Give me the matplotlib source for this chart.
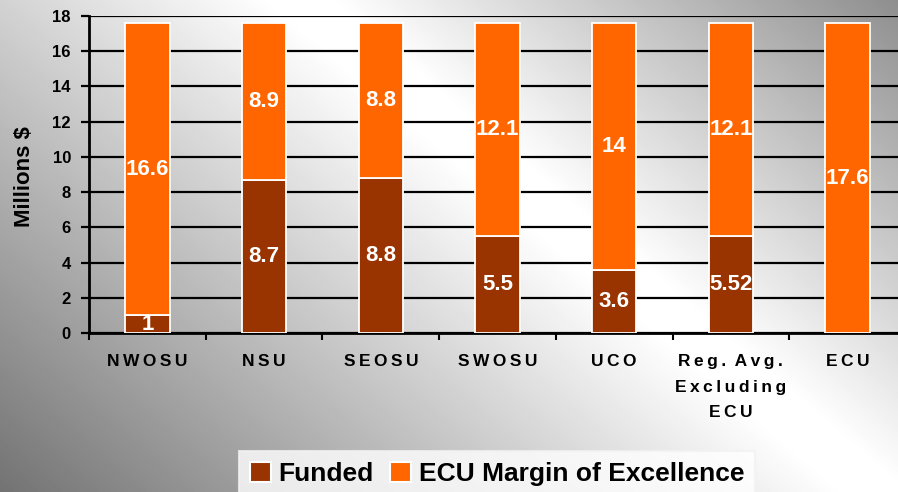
import numpy as np
import matplotlib
matplotlib.use('Agg')
import matplotlib.pyplot as plt
from matplotlib.patches import Patch

plt.rcParams['font.family'] = ['Liberation Sans', 'DejaVu Sans']
plt.rcParams['font.weight'] = 'bold'

# data (millions $)
schools = ['NWOSU', 'NSU', 'SEOSU', 'SWOSU', 'UCO', 'Reg. Avg.\nExcluding\nECU', 'ECU']
funded = [1, 8.7, 8.8, 5.5, 3.6, 5.52, 0]
margin = [16.6, 8.9, 8.8, 12.1, 14, 12.1, 17.6]
funded_lbl = ['1', '8.7', '8.8', '5.5', '3.6', '5.52', '']
margin_lbl = ['16.6', '8.9', '8.8', '12.1', '14', '12.1', '17.6']
yticks = [0, 2, 4, 6, 8, 10, 12, 14, 16, 18]

c_funded = '#993300'
c_margin = '#FF6600'


def spaced(s):
    # fake the wide letter spacing of the original
    lines = []
    for line in s.split('\n'):
        words = ['\u2009'.join(w) for w in line.split(' ')]
        lines.append(' \u2009'.join(words))
    return '\n'.join(lines)


W, H = 898, 492
fig = plt.figure(figsize=(W / 100, H / 100), dpi=100)

# diagonal grey-white-grey background
xx, yy = np.meshgrid(np.arange(W), np.arange(H))
d = ((xx - 300) * 470 - yy * 550) / 723.0
bg = np.where(d > 0, 1 - 0.0012 * np.clip(d - 20, 0, None),
              1 - 0.001 * np.clip(-d - 20, 0, None))
bg = np.clip(bg, 0.42, 1)
bgax = fig.add_axes([0, 0, 1, 1], zorder=-1)
bgax.imshow(bg, cmap='gray', vmin=0, vmax=1, aspect='auto', interpolation='bilinear')
bgax.axis('off')

ax = fig.add_axes([89 / W, 1 - 333 / H, 817 / W, 317 / H])
ax.set_facecolor('none')

x = np.arange(len(schools))
bw = 0.38
ax.bar(x, funded, bw, color=c_funded, edgecolor='white', linewidth=1.3, zorder=3)
ax.bar(x, margin, bw, bottom=funded, color=c_margin, edgecolor='white', linewidth=1.3, zorder=3)

for i in range(len(schools)):
    if funded_lbl[i]:
        ax.text(x[i], funded[i] / 2, funded_lbl[i], ha='center', va='center',
                color='white', fontsize=16, fontweight='bold', zorder=4)
    ax.text(x[i], funded[i] + margin[i] / 2, margin_lbl[i], ha='center', va='center',
            color='white', fontsize=16, fontweight='bold', zorder=4)

ax.set_xlim(-0.5, len(schools) - 0.5)
ax.set_ylim(0, 18)
ax.set_yticks(yticks)
ax.set_yticklabels([str(v) for v in yticks], fontsize=12, fontweight='bold')
ax.yaxis.grid(True, color='black', linewidth=1.6, zorder=1)
ax.set_axisbelow(True)

ax.set_xticks(x)
ax.set_xticklabels([spaced(s) for s in schools], fontsize=12.5, fontweight='bold',
                   linespacing=1.9)
ax.set_xticks(np.arange(len(schools) + 1) - 0.5, minor=True)
ax.tick_params(axis='x', which='major', length=0, pad=15)
ax.tick_params(axis='x', which='minor', length=5, width=1.5, direction='out')
ax.tick_params(axis='y', length=6, width=1.6, pad=7)

for s in ['top', 'right']:
    ax.spines[s].set_visible(False)
ax.spines['left'].set_linewidth(2)
ax.spines['bottom'].set_linewidth(2)

fig.text(25 / W, 1 - 177 / H, 'Millions $', rotation=90, ha='center', va='center',
         fontsize=16, fontweight='bold')

handles = [Patch(facecolor=c_funded, edgecolor='white', linewidth=1.5, label='Funded'),
           Patch(facecolor=c_margin, edgecolor='white', linewidth=1.5, label='ECU Margin of Excellence')]
leg = fig.legend(handles=handles, loc='upper center', bbox_to_anchor=(497 / W, 1 - 451 / H),
                 ncol=2, prop={'size': 19, 'weight': 'bold'}, frameon=True, fancybox=False,
                 handlelength=0.8, handleheight=0.8, handletextpad=0.3, columnspacing=0.6,
                 borderpad=0.4, borderaxespad=0)
leg.get_frame().set_facecolor((1, 1, 1, 0.15))
leg.get_frame().set_edgecolor('#f2f2f2')
leg.get_frame().set_linewidth(1.5)

fig.savefig('out.png', dpi=100)
